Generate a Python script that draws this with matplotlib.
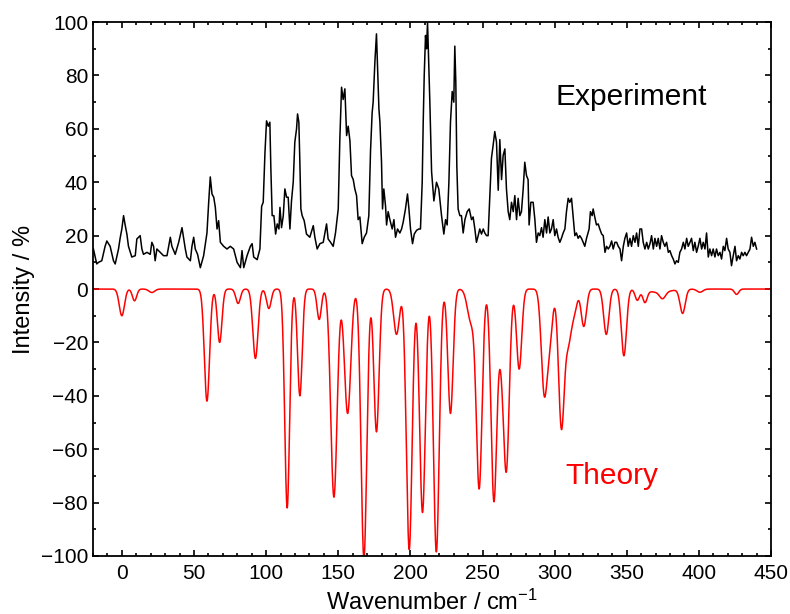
import numpy as np
import matplotlib
matplotlib.use("Agg")
import matplotlib.pyplot as plt
from matplotlib.ticker import MultipleLocator

plt.rcParams['font.family'] = ['Liberation Sans', 'DejaVu Sans']
plt.rcParams['mathtext.default'] = 'regular'

exp_x = [-19.7, -17.4, -16.2, -13.9, -11.6, -10.4, -8.1, -5.8, -4.6, -2.3, -1.2, 0.0, 1.2, 2.3, 3.5, 4.6,
         6.9, 9.3, 10.4, 12.7, 13.9, 15.0, 17.4, 19.7, 20.8, 22.0, 23.1, 24.3, 26.6, 28.9, 31.3, 33.6,
         34.7, 37.0, 39.4, 41.7, 44.0, 45.1, 47.5, 48.6, 49.8, 50.9, 52.5, 54.4, 56.7, 59.0, 60.2, 61.3,
         62.5, 63.7, 64.8, 66.0, 67.1, 68.3, 70.6, 72.9, 75.2, 77.5, 79.9, 82.2, 83.3, 84.5, 86.8, 89.1,
         90.3, 91.4, 93.8, 95.7, 96.9, 98.0, 99.2, 100.3, 101.5, 102.6, 103.3, 104.2, 105.4, 106.6, 107.7,
         108.9, 109.6, 110.7, 111.9, 113.0, 114.2, 115.3, 116.5, 117.6, 118.8, 119.9, 121.1, 121.8, 122.7,
         123.4, 124.1, 125.0, 126.4, 128.0, 130.3, 132.7, 133.8, 135.4, 137.3, 139.6, 141.9, 143.0, 144.7,
         146.5, 148.1, 150.0, 151.1, 152.3, 153.4, 154.6, 155.8, 156.9, 158.1, 159.2, 160.4, 161.5, 162.7,
         163.8, 165.0, 166.6, 168.0, 169.6, 171.2, 172.4, 173.5, 174.2, 175.4, 176.5, 177.2, 178.2, 178.9,
         180.0, 180.7, 181.6, 182.8, 183.5, 184.6, 185.8, 187.4, 188.6, 189.7, 191.1, 192.7, 193.9, 195.0,
         196.6, 198.0, 199.0, 200.1, 201.5, 202.7, 204.3, 205.9, 207.0, 208.2, 208.9, 209.6, 210.5, 211.2,
         211.9, 212.8, 213.5, 214.7, 216.3, 218.1, 219.7, 221.6, 223.2, 224.4, 225.5, 226.7, 227.8, 229.0,
         230.1, 230.8, 231.5, 232.2, 233.1, 234.3, 235.4, 236.6, 237.8, 239.4, 240.8, 242.4, 243.5, 244.7,
         245.8, 247.0, 248.1, 249.3, 250.5, 251.6, 252.8, 253.9, 255.1, 256.2, 257.4, 258.5, 259.7, 260.9,
         262.0, 263.2, 264.3, 265.5, 266.6, 267.8, 268.9, 270.1, 271.3, 272.4, 273.6, 274.7, 275.9, 277.0,
         278.2, 279.3, 280.5, 281.6, 282.3, 283.5, 285.1, 286.3, 287.4, 288.6, 289.7, 290.9, 292.0, 293.2,
         294.4, 295.5, 296.7, 297.8, 299.0, 300.1, 301.3, 302.4, 303.6, 304.7, 305.9, 307.1, 308.2, 309.4,
         310.5, 311.7, 312.8, 314.0, 315.1, 316.3, 317.4, 318.6, 319.8, 320.9, 322.1, 323.9, 324.8, 326.0,
         326.7, 327.8, 329.0, 330.2, 331.3, 332.6, 333.7, 334.9, 336.0, 337.2, 338.3, 339.5, 340.6, 341.8,
         343.0, 344.1, 345.3, 346.4, 347.6, 348.7, 349.9, 351.0, 352.2, 353.3, 354.5, 355.7, 356.8, 358.0,
         359.1, 360.3, 361.4, 362.6, 363.8, 364.9, 366.1, 367.2, 368.4, 369.5, 370.7, 371.8, 373.0, 374.1,
         375.3, 376.4, 377.6, 378.8, 379.9, 381.1, 382.2, 383.4, 384.5, 385.7, 386.8, 388.0, 389.2, 390.3,
         391.5, 392.6, 393.8, 394.9, 396.1, 397.2, 398.4, 399.5, 400.7, 401.9, 403.0, 404.2, 405.3, 406.5,
         407.6, 408.8, 409.9, 411.1, 412.2, 413.4, 414.6, 415.7, 416.9, 418.0, 419.2, 420.3, 421.5, 422.6,
         423.8, 425.0, 426.1, 427.3, 428.4, 429.6, 430.7, 431.9, 433.0, 434.2, 435.4, 436.5, 437.7, 438.8,
         440.0]
exp_y = [15, 9.4, 10, 10.6, 16, 18, 16, 10.6, 9.4, 15, 19, 22.5, 27.5, 24, 20.6, 16,
         12, 12.5, 18.75, 20, 15, 13, 13.75, 13, 17.5, 16, 10.6, 15, 13.75, 12.5, 12.5, 19.4,
         16, 13, 17.5, 23, 15, 12, 10.6, 16, 19.4, 15, 13, 8, 12.5, 21, 32.5, 42,
         35.6, 34.4, 30.6, 22.5, 25.6, 17.5, 16, 15, 16, 15, 10, 8, 14.4, 8, 12.5, 16,
         17, 12, 11, 15, 31, 32.5, 51, 63, 61, 62.5, 45, 27.5, 27.5, 20.6, 24.4,
         22.5, 30.6, 23, 27.5, 37.5, 34.4, 34.4, 22.5, 33, 40, 55, 60, 65.6, 62.5,
         47.5, 30, 27.5, 25.6, 20.6, 19.4, 23.75, 19.4, 15, 17, 17.5, 24.4, 18.75, 17.5,
         16, 21, 30, 56, 75.6, 71, 75, 57.5, 61, 55.6, 42.5, 41, 37.5, 35,
         26, 27, 17, 19.4, 21, 27.5, 52, 66, 70, 85, 95.6, 84, 67.5, 62.5,
         47.5, 30, 37.5, 31, 24, 29, 26, 22.5, 26, 19.4, 22.5, 21, 22.5, 25,
         30, 35.6, 30, 22.5, 17, 20.6, 22, 22.5, 22.5, 40, 62.5, 80, 95, 90,
         100, 82.5, 70, 44, 33, 40, 37.5, 27.5, 20.6, 26, 24, 40, 62.5, 74,
         70, 91, 77.5, 46, 30, 27.5, 27.5, 21, 26, 29, 30, 26, 27, 22.5,
         17.5, 20, 22.5, 20.6, 22.5, 21, 20, 20, 35, 49, 54, 59, 55, 37,
         56, 41, 50, 52.5, 37.5, 29, 26, 32.5, 29, 35, 26, 34, 27.5, 29,
         37.5, 47.5, 42.5, 41, 24, 32.5, 32.5, 26, 17.5, 21, 20, 23, 19.4, 26,
         21, 27, 21, 22.5, 26, 20, 22.5, 19.4, 17.5, 19, 21, 22.5, 29, 34,
         32.5, 34, 27.5, 20, 21, 19, 20, 19, 17.5, 16, 19, 22.5, 29, 27.5,
         30, 27, 24, 24.4, 22.5, 20.6, 20, 13.75, 16, 15, 16, 18, 15, 17.5,
         17.5, 16, 15, 10.6, 16, 19, 21, 16, 19, 16, 20, 17.5, 21, 16,
         22.5, 22.5, 17.5, 15, 17.5, 15, 17, 20, 15, 19, 16, 19, 15, 20,
         17.5, 16, 17.5, 13.75, 14.4, 12.5, 11.25, 9.4, 10.6, 10, 13.75, 15, 17.5, 15,
         19, 16, 17.5, 19, 14.4, 17.5, 13.75, 16, 19, 15, 17.5, 15, 21, 12,
         15, 12.5, 15, 12, 15, 12.5, 13.75, 11.25, 16, 14.4, 19, 15, 13.75, 8.75,
         12.5, 16, 10.6, 12.5, 11.25, 13.75, 12.5, 13.75, 12.5, 13.75, 15, 19.4, 16, 17.5,
         15]

# Theoretical lines: position (cm-1), depth (%), gaussian width (cm-1)
peak_pos = [0.0, 8.8, 20.8, 59.0, 67.8, 80.6, 92.6, 101.9, 114.6, 123.4, 136.8, 147.0, 156.5,
            167.8, 176.5, 190.4, 199.2, 208.4, 218.0, 227.8, 242.0, 247.7, 257.9, 263.0, 266.6,
            275.4, 292.7, 296.5, 304.7, 309.5, 313.5, 320.2, 335.8, 348.0, 357.3, 362.6, 372.0,
            374.8, 388.7, 400.7, 426.1]
peak_depth = [10, 4.4, 1.3, 42, 20, 5.4, 26, 7.3, 82, 40, 11.4, 78, 46.6,
              101, 53.5, 17, 97.6, 83.75, 98.5, 46.6, 12, 74, 79, 18, 64.75,
              30, 37, 18, 51.6, 18, 8, 14, 17, 25, 4, 4.5, 1.2,
              2.5, 9, 1.2, 2]
peak_width = [1.8, 1.5, 2.0, 1.8, 1.6, 1.6, 1.8, 1.6, 1.7, 1.6, 1.5, 2.2, 2.2,
              2.0, 1.8, 2.0, 2.0, 2.0, 2.0, 1.8, 2.5, 2.0, 2.0, 2.0, 2.0,
              1.8, 2.0, 2.0, 2.0, 2.0, 2.0, 1.8, 1.8, 1.8, 1.5, 1.5, 8.0,
              2.0, 1.8, 2.0, 1.5]

# Broadened theory spectrum
th_x = np.linspace(-20, 450, 3000)
th_y = np.zeros_like(th_x)
for p, d, w in zip(peak_pos, peak_depth, peak_width):
    th_y -= d * np.exp(-(th_x - p)**2 / (2 * w**2))

fig = plt.figure(figsize=(7.9, 6.14), dpi=100)
ax = fig.add_axes([0.1177, 0.0945, 0.8583, 0.8695])

ax.plot(exp_x, exp_y, color='black', lw=1.1)
ax.plot(th_x, th_y, color='red', lw=1.1)

ax.set_xlim(-20, 450)
ax.set_ylim(-100, 100)
ax.xaxis.set_major_locator(MultipleLocator(50))
ax.xaxis.set_minor_locator(MultipleLocator(10))
ax.yaxis.set_major_locator(MultipleLocator(20))
ax.yaxis.set_minor_locator(MultipleLocator(10))
ax.tick_params(which='both', direction='in', top=True, right=True, labelsize=15, width=1.2)
ax.tick_params(which='major', length=4.5)
ax.tick_params(which='minor', length=2.5)
ax.tick_params(axis='x', pad=5.5)
for s in ax.spines.values():
    s.set_linewidth(1.3)

ax.set_xlabel('Wavenumber / cm$^{-1}$', fontsize=17, labelpad=5)
ax.set_ylabel('Intensity / %', fontsize=17)

# labels for the two curves
ax.text(353, 72, 'Experiment', fontsize=21.5, color='black', ha='center', va='center')
ax.text(340, -70, 'Theory', fontsize=21.5, color='red', ha='center', va='center')

fig.savefig('out.png', dpi=100)
